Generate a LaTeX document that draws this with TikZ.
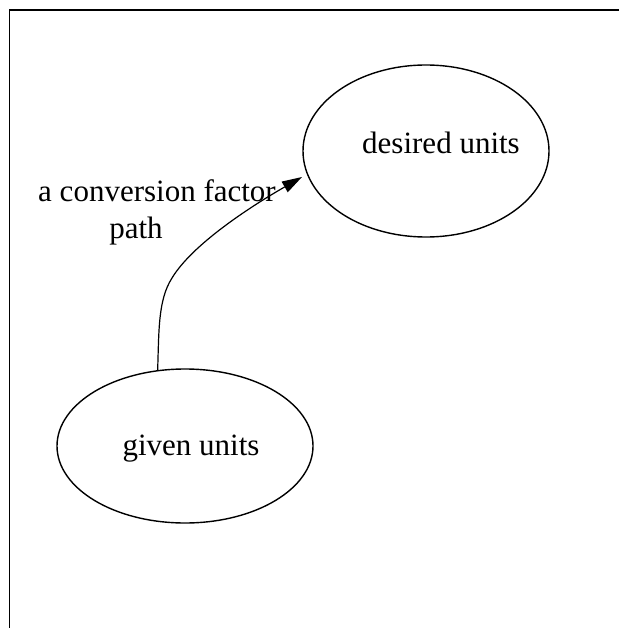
\documentclass[tikz,border=0pt]{standalone}
\usepackage{fontspec}
\setmainfont{Liberation Serif}
\usetikzlibrary{shapes.geometric,arrows.meta}
\begin{document}
\begin{tikzpicture}[x=1pt,y=-1pt,
  unitbox/.style={ellipse,draw,line width=1.4pt,inner sep=0pt,outer sep=0pt},
  lbl/.style={anchor=base,inner sep=0pt,font=\fontsize{31}{36}\selectfont},
  conn/.style={line width=1.2pt,-{Triangle[length=20pt,width=12pt]}}]
\useasboundingbox (0,0) rectangle (619,628);
\draw[line width=1.8pt] (619,10) -- (9.5,10) -- (9.5,628);
\node[unitbox,minimum width=246pt,minimum height=172pt] (desired) at (426,151) {};
\node[unitbox,minimum width=256pt,minimum height=154pt] (given) at (185,446) {};
\node[lbl] (desiredtext) at (441,154) {desired units};
\node[lbl] (giventext) at (191,455) {given units};
\node[lbl] (edgelabelA) at (157,202) {a conversion factor};
\node[lbl] (edgelabelB) at (136,238) {path};
\draw[conn] (given.110.5) .. controls (159,330) and (158,300) .. (172,278)
  .. controls (192,245) and (248,208) .. ([shift={(-1,26)}]desired.west);
\end{tikzpicture}
\end{document}
